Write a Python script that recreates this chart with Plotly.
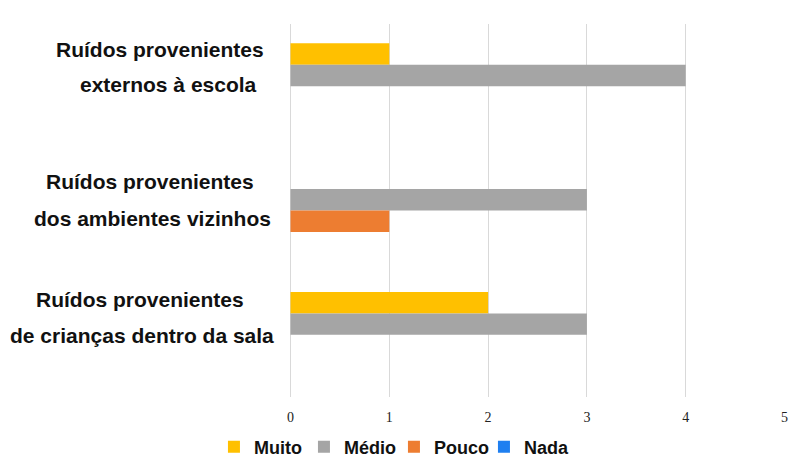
import plotly.graph_objects as go

# Categories (top to bottom) and series values
categorias = ["externos", "vizinhos", "criancas"]
linha1 = ["Ruídos provenientes", "Ruídos provenientes", "Ruídos provenientes"]
linha2 = ["externos à escola", "dos ambientes vizinhos", "de crianças dentro da sala"]

series = ["Muito", "Médio", "Pouco", "Nada"]
muito = [1, 0, 2]
medio = [4, 3, 3]
pouco = [0, 1, 0]
nada = [0, 0, 0]
cores = ["#FFC000", "#A5A5A5", "#ED7D31", "#1F7FF0"]

ticks = [0, 1, 2, 3, 4, 5]

fig = go.Figure()
for nome, vals, cor in zip(series, [muito, medio, pouco, nada], cores):
    fig.add_trace(go.Bar(y=categorias, x=vals, name=nome, orientation="h",
                         marker=dict(color=cor, line=dict(width=0))))

# Two-line category labels, placed as annotations (label layout)
pos_x1 = [-0.263, -0.283, -0.303]
pos_x2 = [-0.246, -0.277, -0.299]
shift1 = [37, 29, 35]
shift2 = [2, -8, -1]
for i, cat in enumerate(categorias):
    fig.add_annotation(x=pos_x1[i], xref="paper", y=cat, yref="y", yshift=shift1[i],
                       text=linha1[i], showarrow=False, xanchor="center",
                       font=dict(family="Liberation Sans", size=21, color="#111111", weight="bold"))
    fig.add_annotation(x=pos_x2[i], xref="paper", y=cat, yref="y", yshift=shift2[i],
                       text=linha2[i], showarrow=False, xanchor="center",
                       font=dict(family="Liberation Sans", size=21, color="#111111", weight="bold"))

fig.update_layout(
    width=792, height=459,
    margin=dict(l=290, r=7, t=24, b=62, autoexpand=False),
    paper_bgcolor="white", plot_bgcolor="white",
    barmode="group", bargap=0.31, bargroupgap=0,
    showlegend=True,
    legend=dict(orientation="h", x=0.21, xanchor="center", y=-0.134, yanchor="middle",
                font=dict(family="Liberation Sans", size=18, color="#111111", weight="bold"),
                itemwidth=30, entrywidth=45, traceorder="normal"),
    xaxis=dict(range=[-0.005, 5.005], tickvals=ticks, showgrid=True, gridcolor="#D9D9D9", gridwidth=1,
               zeroline=True, zerolinecolor="#D9D9D9", zerolinewidth=1, showline=False,
               automargin=False, ticklabeloverflow="allow",
               tickfont=dict(family="Liberation Serif", size=14, color="#222222"),
               ticklabelstandoff=10),
    yaxis=dict(range=[2.5, -0.5], showticklabels=False, showgrid=False, zeroline=False,
               showline=False, automargin=False),
)

# drop the default 8px body margin so the figure fills the window
fig.write_html("out.html", config={"displayModeBar": False},
               post_script="document.body.style.margin='0';")
